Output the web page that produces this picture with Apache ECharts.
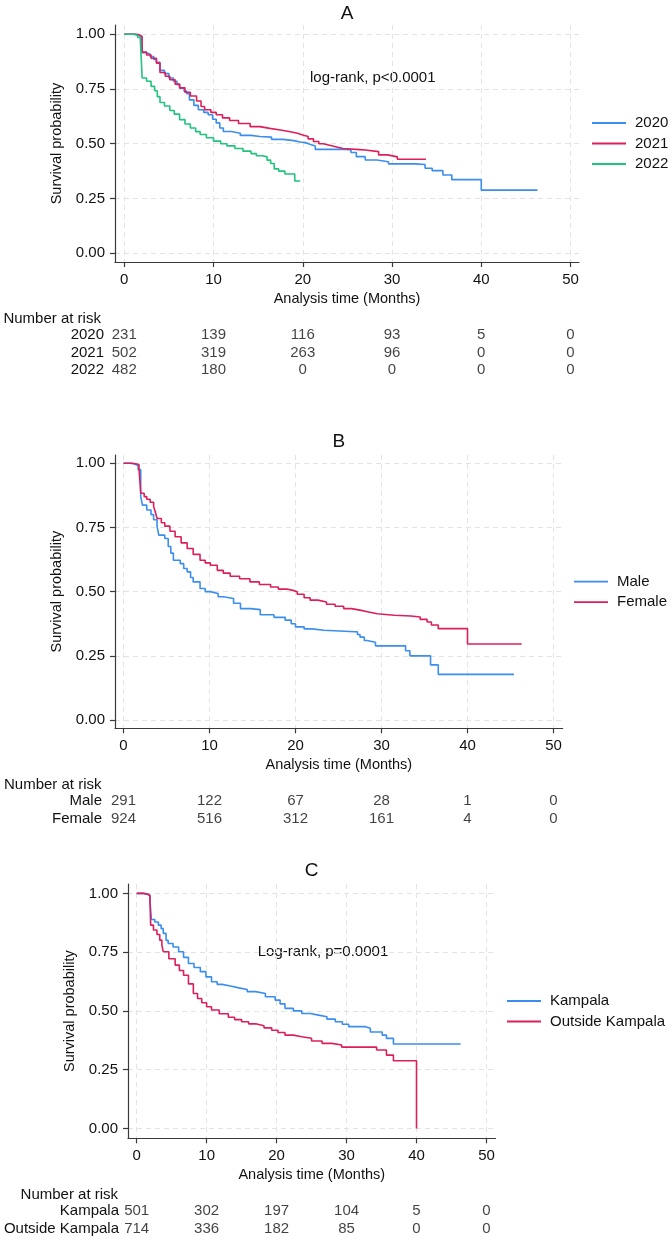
<!DOCTYPE html>
<html>
<head>
<meta charset="utf-8">
<title>Survival by year, sex and residence</title>
<script src="https://cdn.jsdelivr.net/npm/echarts@6/dist/echarts.min.js"></script>
<style>
html, body { margin: 0; padding: 0; background: #fff; }
#chart { width: 672px; height: 1240px; }
</style>
</head>
<body>
<div id="chart"></div>
<script>
const FONT = '"Liberation Sans", Arial, sans-serif';
const TEXT = '#111';
const AXIS = '#3a3a3a';
const colors = ['#3b8ef0', '#dc1f5b', '#20c47d'];

const timeTicks = [0, 10, 20, 30, 40, 50];
const probTicks = [0, 0.25, 0.5, 0.75, 1];

// A: year of diagnosis
const groupsA = ['2020', '2021', '2022'];
const survA2020 = [[0, 1], [1.2, 0.995], [1.6, 0.99], [1.9, 0.96], [2.0, 0.915], [2.4, 0.91], [2.9, 0.898], [3.3, 0.885], [3.6, 0.872], [4.0, 0.835], [4.5, 0.82], [5.0, 0.8], [5.5, 0.785], [5.9, 0.77], [6.2, 0.753], [6.7, 0.74], [7.0, 0.728], [7.3, 0.7], [7.8, 0.675], [8.3, 0.655], [8.9, 0.643], [9.4, 0.632], [9.9, 0.612], [10.3, 0.595], [10.7, 0.572], [11.1, 0.556], [12.0, 0.548], [13.0, 0.538], [14.2, 0.533], [15.2, 0.53], [16.5, 0.52], [17.8, 0.514], [19.0, 0.508], [19.7, 0.505], [20.3, 0.498], [20.8, 0.49], [21.4, 0.474], [24.9, 0.472], [25.4, 0.46], [26.0, 0.441], [27.0, 0.426], [28.3, 0.418], [29.6, 0.408], [32.6, 0.405], [33.7, 0.388], [34.5, 0.377], [35.7, 0.357], [36.7, 0.336], [40.0, 0.288], [46.3, 0.288]];
const survA2021 = [[0, 1], [1.3, 0.997], [1.7, 0.99], [2.0, 0.918], [2.5, 0.905], [3.0, 0.89], [3.6, 0.868], [4.0, 0.825], [4.6, 0.808], [5.1, 0.792], [5.7, 0.772], [6.2, 0.755], [6.8, 0.735], [7.4, 0.718], [8.1, 0.695], [8.6, 0.67], [9.0, 0.655], [9.7, 0.643], [10.3, 0.632], [11.0, 0.618], [11.8, 0.606], [12.8, 0.592], [14.1, 0.578], [15.2, 0.57], [16.3, 0.563], [17.5, 0.555], [18.6, 0.548], [19.4, 0.54], [20.0, 0.533], [20.6, 0.522], [21.2, 0.51], [21.8, 0.5], [22.3, 0.493], [23.0, 0.485], [23.8, 0.478], [24.5, 0.473], [26.4, 0.471], [27.0, 0.464], [28.5, 0.449], [29.5, 0.44], [30.6, 0.429], [33.8, 0.429]];
const survA2022 = [[0, 1], [1.0, 0.995], [1.5, 0.985], [1.8, 0.975], [2.0, 0.8], [2.5, 0.785], [3.0, 0.762], [3.4, 0.742], [3.7, 0.715], [4.0, 0.688], [4.5, 0.672], [5.1, 0.652], [5.6, 0.635], [6.2, 0.61], [6.8, 0.59], [7.4, 0.572], [8.0, 0.555], [8.5, 0.542], [9.2, 0.527], [10.0, 0.512], [10.8, 0.5], [11.5, 0.49], [12.4, 0.478], [13.3, 0.466], [14.2, 0.455], [14.8, 0.445], [15.5, 0.44], [16.0, 0.425], [16.4, 0.41], [16.8, 0.385], [17.3, 0.375], [18.0, 0.362], [19.1, 0.33], [19.7, 0.33]];
const riskA2020 = [231, 139, 116, 93, 5, 0];
const riskA2021 = [502, 319, 263, 96, 0, 0];
const riskA2022 = [482, 180, 0, 0, 0, 0];

// B: sex
const groupsB = ['Male', 'Female'];
const survBMale = [[0, 1], [0.8, 0.997], [1.3, 0.99], [1.7, 0.975], [2.0, 0.87], [2.2, 0.837], [2.7, 0.818], [3.2, 0.8], [3.5, 0.78], [3.9, 0.755], [4.1, 0.72], [4.8, 0.707], [5.2, 0.676], [5.5, 0.65], [5.8, 0.622], [6.6, 0.609], [7.0, 0.59], [7.4, 0.577], [7.8, 0.555], [8.1, 0.538], [8.9, 0.512], [9.5, 0.5], [10.1, 0.493], [11.0, 0.48], [11.6, 0.473], [12.8, 0.455], [13.6, 0.434], [14.8, 0.43], [15.9, 0.41], [17.5, 0.4], [18.8, 0.389], [19.5, 0.375], [20.0, 0.363], [21.0, 0.355], [21.9, 0.35], [23.3, 0.344], [26.9, 0.344], [27.2, 0.333], [27.5, 0.323], [28.0, 0.31], [28.3, 0.303], [29.3, 0.289], [32.5, 0.289], [32.8, 0.27], [33.3, 0.25], [35.7, 0.215], [36.6, 0.178], [45.4, 0.178]];
const survBFemale = [[0, 1], [1.0, 0.998], [1.4, 0.995], [1.8, 0.98], [2.0, 0.883], [2.4, 0.87], [2.7, 0.86], [3.1, 0.848], [3.5, 0.832], [3.7, 0.81], [3.9, 0.785], [4.4, 0.768], [4.8, 0.755], [5.4, 0.735], [6.0, 0.714], [6.7, 0.69], [7.4, 0.668], [8.1, 0.645], [8.9, 0.622], [9.5, 0.612], [10.1, 0.603], [10.9, 0.583], [11.6, 0.572], [12.4, 0.56], [13.5, 0.55], [14.7, 0.538], [15.8, 0.528], [17.1, 0.518], [18.0, 0.51], [19.0, 0.505], [19.7, 0.5], [20.2, 0.49], [21.0, 0.476], [21.7, 0.467], [22.6, 0.46], [23.6, 0.451], [24.6, 0.443], [25.6, 0.434], [26.5, 0.428], [27.5, 0.421], [28.5, 0.414], [29.5, 0.408], [31.5, 0.405], [33.4, 0.401], [34.5, 0.392], [35.3, 0.382], [35.8, 0.37], [36.6, 0.356], [40.0, 0.296], [46.3, 0.296]];
const riskBMale = [291, 122, 67, 28, 1, 0];
const riskBFemale = [924, 516, 312, 161, 4, 0];

// C: residence
const groupsC = ['Kampala', 'Outside Kampala'];
const survCKampala = [[0, 1], [1.0, 0.997], [1.4, 0.993], [1.9, 0.972], [2.1, 0.889], [2.6, 0.878], [3.1, 0.865], [3.5, 0.85], [3.8, 0.83], [4.2, 0.8], [4.5, 0.787], [5.2, 0.772], [6.0, 0.752], [6.7, 0.728], [7.4, 0.702], [8.2, 0.685], [9.1, 0.667], [9.9, 0.645], [10.7, 0.624], [11.5, 0.613], [12.2, 0.606], [13.4, 0.598], [14.6, 0.591], [15.8, 0.582], [17.0, 0.574], [18.4, 0.56], [19.8, 0.546], [20.5, 0.53], [21.2, 0.511], [22.4, 0.5], [23.6, 0.489], [24.8, 0.482], [26.0, 0.475], [27.2, 0.465], [28.4, 0.454], [29.4, 0.443], [30.3, 0.433], [32.7, 0.426], [33.4, 0.41], [35.1, 0.397], [35.7, 0.383], [36.7, 0.359], [46.3, 0.359]];
const survCOutside = [[0, 1], [1.0, 0.997], [1.6, 0.99], [1.9, 0.97], [2.0, 0.865], [2.4, 0.844], [2.9, 0.825], [3.3, 0.801], [3.6, 0.78], [3.8, 0.752], [4.6, 0.722], [5.5, 0.695], [6.1, 0.672], [6.7, 0.652], [7.4, 0.615], [8.1, 0.574], [8.7, 0.553], [9.3, 0.535], [10.0, 0.518], [10.7, 0.504], [11.8, 0.488], [13.1, 0.473], [14.0, 0.463], [15.0, 0.454], [16.0, 0.445], [17.0, 0.437], [18.2, 0.428], [19.3, 0.418], [20.2, 0.408], [21.2, 0.397], [22.4, 0.39], [23.6, 0.384], [25.0, 0.372], [26.5, 0.362], [27.9, 0.355], [29.3, 0.346], [33.6, 0.346], [34.3, 0.334], [35.7, 0.312], [36.7, 0.288], [40.0, 0]];
const riskCKampala = [501, 302, 197, 104, 5, 0];
const riskCOutside = [714, 336, 182, 85, 0, 0];

const panels = [
    { groups: groupsA, curves: [survA2020, survA2021, survA2022], risks: [riskA2020, riskA2021, riskA2022] },
    { groups: groupsB, curves: [survBMale, survBFemale], risks: [riskBMale, riskBFemale] },
    { groups: groupsC, curves: [survCKampala, survCOutside], risks: [riskCKampala, riskCOutside] },
];

// page geometry of each panel (plot box in px, padded axis ranges)
const layout = [
    {
        title: 'A', titlePos: [347, 14], note: 'log-rank, p<0.0001', notePos: [310, 78],
        left: 115, top: 25, right: 579, bottom: 262,
        xRange: [-1.04, 50.95], yRange: [-0.04, 1.042],
        narX: 3.4, rowLabelMargin: 11, legendPos: [592, 115.5],
    },
    {
        title: 'B', titlePos: [338.8, 441.7], note: null,
        left: 115, top: 455, right: 562.7, bottom: 728.3,
        xRange: [-0.99, 51.07], yRange: [-0.032, 1.032],
        narX: 4, rowLabelMargin: 13, legendPos: [574, 574.2],
    },
    {
        title: 'C', titlePos: [311.7, 871], note: 'Log-rank, p=0.0001', notePos: [257.7, 951.7],
        left: 128, top: 884, right: 495.5, bottom: 1138.3,
        xRange: [-1.24, 51.29], yRange: [-0.042, 1.04],
        narX: 20.6, rowLabelMargin: 9, legendPos: [507, 993.5],
    },
];

const ROW_H = 17.5;
const grid = [];
const xAxis = [];
const yAxis = [];
const series = [];
const legend = [];
const graphic = [];

function textEl(text, x, y, size, align) {
    return {
        type: 'text',
        x,
        y,
        silent: true,
        style: {
            text,
            fill: TEXT,
            font: `${size}px ${FONT}`,
            align,
            verticalAlign: 'middle',
            textAlign: align,
            textVerticalAlign: 'middle',
        },
    };
}

layout.forEach((L, i) => {
    const P = panels[i];
    const g = grid.length;
    const width = L.right - L.left;

    grid.push({ left: L.left, top: L.top, width, height: L.bottom - L.top, outerBoundsMode: 'none' });
    grid.push({
        left: L.left, top: L.bottom + 73 - ROW_H / 2, width, height: P.groups.length * ROW_H, outerBoundsMode: 'none',
    });

    xAxis.push({
        gridIndex: g,
        type: 'value',
        min: L.xRange[0],
        max: L.xRange[1],
        axisLine: { show: true, onZero: false, lineStyle: { color: AXIS, width: 1.2 } },
        axisTick: { show: true, customValues: timeTicks, length: 5, lineStyle: { color: AXIS, width: 1.2 } },
        axisLabel: { customValues: timeTicks, margin: 10, fontSize: 15, color: TEXT, fontFamily: FONT },
        splitLine: { show: true, lineStyle: { color: '#e3e3e3', type: [5, 4], width: 1 } },
        name: 'Analysis time (Months)',
        nameLocation: 'middle',
        nameGap: 29,
        nameTextStyle: { fontSize: 14.5, color: TEXT, fontFamily: FONT },
    });
    xAxis.push({ gridIndex: g + 1, type: 'value', min: L.xRange[0], max: L.xRange[1], show: false });

    yAxis.push({
        gridIndex: g,
        type: 'value',
        min: L.yRange[0],
        max: L.yRange[1],
        axisLine: { show: true, onZero: false, lineStyle: { color: AXIS, width: 1.2 } },
        axisTick: { show: true, customValues: probTicks, length: 5, lineStyle: { color: AXIS, width: 1.2 } },
        axisLabel: {
            customValues: probTicks, margin: 10, fontSize: 15, color: TEXT, fontFamily: FONT,
            formatter: (v) => v.toFixed(2),
        },
        splitLine: { show: true, lineStyle: { color: '#e3e3e3', type: [5, 4], width: 1 } },
        name: 'Survival probability',
        nameLocation: 'middle',
        nameGap: 50,
        nameTextStyle: { fontSize: 14.5, color: TEXT, fontFamily: FONT },
    });
    yAxis.push({
        gridIndex: g + 1,
        type: 'category',
        data: P.groups,
        inverse: true,
        axisLine: { show: false },
        axisTick: { show: false },
        splitLine: { show: false },
        axisLabel: { interval: 0, margin: L.rowLabelMargin, fontSize: 15, color: TEXT, fontFamily: FONT },
    });

    P.groups.forEach((name, k) => {
        series.push({
            type: 'line',
            name,
            xAxisIndex: g,
            yAxisIndex: g,
            step: 'end',
            data: P.curves[k],
            symbol: 'none',
            showSymbol: false,
            silent: true,
            color: colors[k],
            lineStyle: { width: 1.6, color: colors[k] },
        });
        series.push({
            type: 'scatter',
            name: `risk ${name}`,
            xAxisIndex: g + 1,
            yAxisIndex: g + 1,
            data: timeTicks.map((t, j) => [t, name, P.risks[k][j]]),
            symbolSize: 1,
            silent: true,
            itemStyle: { color: 'rgba(0,0,0,0)' },
            label: {
                show: true,
                position: 'inside',
                formatter: (p) => String(p.value[2]),
                fontSize: 15,
                color: TEXT,
                fontFamily: FONT,
            },
        });
    });

    // thin bar icons stand in for the line keys
    legend.push({
        data: P.groups,
        orient: 'vertical',
        left: L.legendPos[0],
        top: L.legendPos[1],
        padding: 0,
        icon: 'rect',
        itemWidth: 34,
        itemHeight: 1.8,
        itemGap: 5.5,
        selectedMode: false,
        textStyle: { fontSize: 15, color: TEXT, fontFamily: FONT, padding: [0, 0, 0, 4] },
    });

    graphic.push(textEl(L.title, L.titlePos[0], L.titlePos[1], 19, 'center'));
    if (L.note) graphic.push(textEl(L.note, L.notePos[0], L.notePos[1], 15, 'left'));
    graphic.push(textEl('Number at risk', L.narX, L.bottom + 57, 15, 'left'));
});

const chart = echarts.init(document.getElementById('chart'), null, { renderer: 'canvas' });
chart.setOption({
    animation: false,
    backgroundColor: '#fff',
    textStyle: { fontFamily: FONT },
    grid,
    xAxis,
    yAxis,
    legend,
    graphic,
    series,
});
</script>
</body>
</html>
